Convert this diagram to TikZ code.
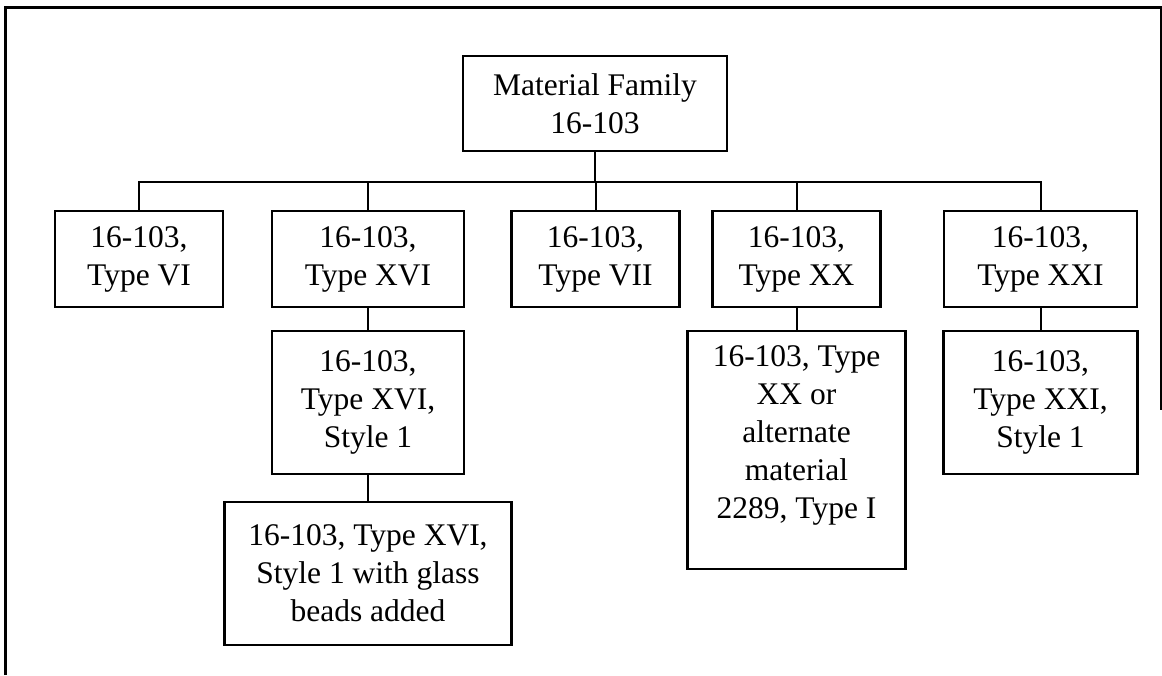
\documentclass[tikz,border=0pt]{standalone}
\usepackage{fontspec}
\setmainfont{Liberation Serif}
\begin{document}
\begin{tikzpicture}[x=1pt,y=-1pt,
  box/.style={draw, line width=2.4pt, align=center, inner sep=0pt,
    font=\fontsize{31.5}{38}\selectfont},
  txt/.style={align=center, inner sep=0pt, font=\fontsize{31.5}{38}\selectfont},
  link/.style={line width=2pt}]
\useasboundingbox (0,0) rectangle (1162,675);
% frame
\draw[line width=3pt] (5,675) -- (5,7) -- (1161,7) -- (1161,410);
% boxes
\node[box, minimum width=264pt, minimum height=95pt] (root) at (595,103.5) {Material Family\\16-103};
\node[box, minimum width=168pt, minimum height=96pt] (vi) at (139,259) {16-103,\\Type VI};
\node[box, minimum width=192pt, minimum height=96pt] (xvi) at (368,259) {16-103,\\Type XVI};
\node[box, minimum width=168pt, minimum height=96pt] (vii) at (595.5,259) {16-103,\\Type VII};
\node[box, minimum width=168pt, minimum height=96pt] (xx) at (796.5,259) {16-103,\\Type XX};
\node[box, minimum width=193pt, minimum height=96pt] (xxi) at (1040.5,259) {16-103,\\Type XXI};
\node[box, minimum width=192pt, minimum height=143pt] (xvi1) at (368,402.5) {16-103,\\Type XVI,\\Style 1};
\node[box, minimum width=287pt, minimum height=143pt] (beads) at (368,573.5) {16-103, Type XVI,\\Style 1 with glass\\beads added};
\node[box, minimum width=218pt, minimum height=238pt] (xx2) at (796.5,450) {};
\node[txt, anchor=north] (xx2t) at ([yshift=-16pt]xx2.north) {16-103, Type\\XX or\\alternate\\material\\2289, Type I};
\node[box, minimum width=194pt, minimum height=143pt] (xxi1) at (1040.5,402.5) {16-103,\\Type XXI,\\Style 1};
% connectors
\coordinate (bus) at (0,181.7);
\draw[link] (root.south) -- (root.south |- bus);
\draw[link] (vi.north) -- (vi.north |- bus) -- (xxi.north |- bus) -- (xxi.north);
\draw[link] (xvi.north |- bus) -- (xvi.north);
\draw[link] (vii.north |- bus) -- (vii.north);
\draw[link] (xx.north |- bus) -- (xx.north);
\draw[link] (xvi.south) -- (xvi1.north);
\draw[link] (xvi1.south) -- (beads.north);
\draw[link] (xx.south) -- (xx2.north);
\draw[link] (xxi.south) -- (xxi1.north);
\end{tikzpicture}
\end{document}
